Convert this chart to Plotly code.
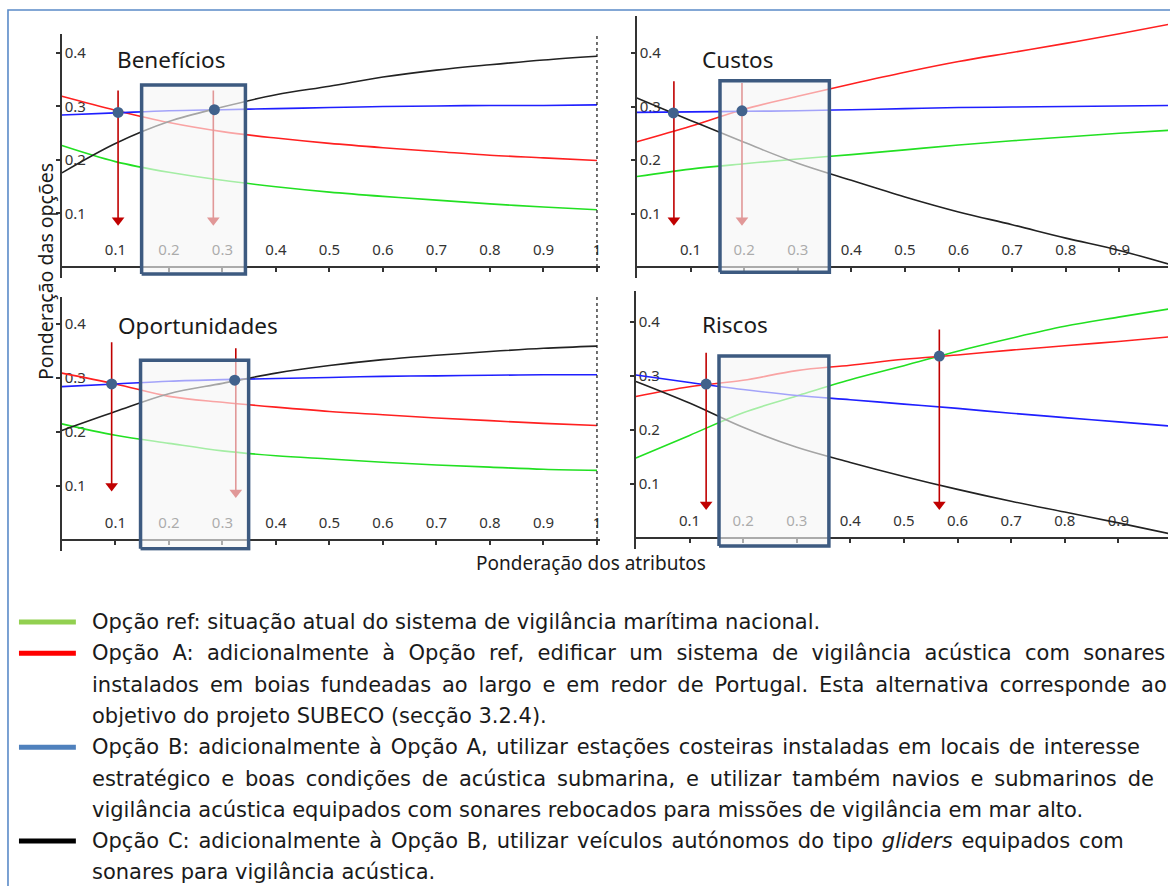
import plotly.graph_objects as go

W, H = 1170, 886

# ---------------- data ----------------
x_samples = [0.0, 0.1, 0.2, 0.3, 0.4, 0.5, 0.6, 0.7, 0.8, 0.9, 1.0]

panel_titles = ["Benefícios", "Custos", "Oportunidades", "Riscos"]

# Benefícios
ben_ref = [0.227, 0.197, 0.177, 0.162, 0.150, 0.140, 0.132, 0.125, 0.118, 0.112, 0.107]
ben_a   = [0.319, 0.293, 0.270, 0.253, 0.241, 0.231, 0.223, 0.216, 0.209, 0.204, 0.199]
ben_b   = [0.284, 0.288, 0.292, 0.294, 0.296, 0.298, 0.300, 0.301, 0.302, 0.302, 0.303]
ben_c   = [0.176, 0.231, 0.272, 0.299, 0.322, 0.338, 0.355, 0.368, 0.378, 0.387, 0.394]
# Custos
cus_ref = [0.169, 0.183, 0.193, 0.202, 0.210, 0.219, 0.228, 0.236, 0.243, 0.250, 0.256]
cus_a   = [0.234, 0.263, 0.295, 0.319, 0.342, 0.364, 0.384, 0.401, 0.418, 0.436, 0.455]
cus_b   = [0.289, 0.290, 0.291, 0.292, 0.294, 0.296, 0.298, 0.299, 0.300, 0.301, 0.302]
cus_c   = [0.316, 0.274, 0.233, 0.194, 0.162, 0.131, 0.103, 0.079, 0.054, 0.031, 0.003]
# Oportunidades
opo_ref = [0.215, 0.194, 0.179, 0.165, 0.156, 0.150, 0.144, 0.139, 0.135, 0.131, 0.129]
opo_a   = [0.309, 0.289, 0.266, 0.255, 0.246, 0.238, 0.232, 0.226, 0.221, 0.216, 0.212]
opo_b   = [0.284, 0.289, 0.294, 0.297, 0.299, 0.301, 0.303, 0.304, 0.305, 0.306, 0.306]
opo_c   = [0.203, 0.238, 0.271, 0.290, 0.309, 0.323, 0.334, 0.342, 0.349, 0.355, 0.359]
# Riscos
ris_ref = [0.148, 0.190, 0.232, 0.263, 0.293, 0.319, 0.346, 0.370, 0.392, 0.409, 0.425]
ris_a   = [0.262, 0.280, 0.292, 0.310, 0.320, 0.331, 0.339, 0.348, 0.356, 0.364, 0.373]
ris_b   = [0.302, 0.288, 0.275, 0.264, 0.256, 0.248, 0.240, 0.231, 0.223, 0.215, 0.207]
ris_c   = [0.290, 0.250, 0.205, 0.168, 0.140, 0.114, 0.090, 0.068, 0.048, 0.028, 0.007]

# intersection points (x, y) per panel
dots_x = [[0.105, 0.285], [0.068, 0.196], [0.093, 0.323], [0.131, 0.566]]
dots_y = [[0.289, 0.294], [0.288, 0.292], [0.289, 0.296], [0.285, 0.337]]

# red arrows: x, top, tip
arrow_x   = [[0.105, 0.283], [0.069, 0.196], [0.093, 0.325], [0.131, 0.566]]
arrow_top = [[0.330, 0.330], [0.347, 0.344], [0.366, 0.355], [0.343, 0.386]]
arrow_tip = [[0.077, 0.077], [0.077, 0.077], [0.090, 0.078], [0.052, 0.052]]

# highlighted window per panel: x0, x1, y0, y1
box_x0 = [0.149, 0.155, 0.147, 0.155]
box_x1 = [0.343, 0.359, 0.349, 0.360]
box_y0 = [-0.013, -0.010, -0.016, -0.015]
box_y1 = [0.340, 0.348, 0.333, 0.337]

x_ticks_left = [0.1, 0.2, 0.3, 0.4, 0.5, 0.6, 0.7, 0.8, 0.9, 1.0]
x_ticks_right = [0.1, 0.2, 0.3, 0.4, 0.5, 0.6, 0.7, 0.8, 0.9]
y_ticks = [0.1, 0.2, 0.3, 0.4]

legend_texts = [
    "Opção ref: situação atual do sistema de vigilância marítima nacional.",
    "Opção A: adicionalmente à Opção ref, edificar um sistema de vigilância acústica com sonares",
    "instalados em boias fundeadas ao largo e em redor de Portugal. Esta alternativa corresponde ao",
    "objetivo do projeto SUBECO (secção 3.2.4).",
    "Opção B: adicionalmente à Opção A, utilizar estações costeiras instaladas em locais de interesse",
    "estratégico e boas condições de acústica submarina, e utilizar também navios e submarinos de",
    "vigilância acústica equipados com sonares rebocados para missões de vigilância em mar alto.",
    "Opção C: adicionalmente à Opção B, utilizar veículos autónomos do tipo <i>gliders</i> equipados com",
    "sonares para vigilância acústica.",
]
# extra inter-word padding that imitates the justified paragraph
legend_gap_pad = ["", " ", "\u2009", "", "\u200a", "\u2009", "", "\u200a", ""]
legend_bar_rows = [0, 1, 4, 7]
legend_bar_colors = ["#92d050", "#ff0000", "#4f81bd", "#000000"]

series = [
    [ben_ref, ben_a, ben_b, ben_c],
    [cus_ref, cus_a, cus_b, cus_c],
    [opo_ref, opo_a, opo_b, opo_c],
    [ris_ref, ris_a, ris_b, ris_c],
]
line_colors = ["#22e022", "#ff2020", "#1f1fff", "#222222"]

# ---------------- layout geometry (pixels) ----------------
geo = [
    dict(x0=62, kx=536, y0=267, ky=535, xr=[0, 1.005], ytop=0.435),
    dict(x0=638, kx=537, y0=267, ky=535, xr=[0, (W - 638) / 537], ytop=0.47),
    dict(x0=62, kx=536, y0=540, ky=540, xr=[0, 1.005], ytop=0.45),
    dict(x0=637, kx=537, y0=538, ky=540, xr=[0, (W - 637) / 537], ytop=0.457),
]
YMIN = -0.02
title_pos = [(115, 59), (701, 59), (116, 325), (701, 324)]
ARROW_HEAD = 11  # marker size in px

fig = go.Figure()
layout = dict(
    width=W, height=H, margin=dict(l=0, r=0, t=0, b=0),
    paper_bgcolor="white", plot_bgcolor="rgba(0,0,0,0)",
    showlegend=False, font=dict(family="Noto Sans", color="#222"),
)
shapes = []
annotations = []

for i in range(4):
    g = geo[i]
    xa = "x" if i == 0 else f"x{i+1}"
    ya = "y" if i == 0 else f"y{i+1}"
    xkey = "xaxis" if i == 0 else f"xaxis{i+1}"
    ykey = "yaxis" if i == 0 else f"yaxis{i+1}"

    # curves
    for s, col in zip(series[i], line_colors):
        fig.add_trace(go.Scatter(x=x_samples, y=s, mode="lines", line=dict(color=col, width=1.6, shape="spline"),
                                 xaxis=xa, yaxis=ya, hoverinfo="skip"))
    # arrows (shaft + triangular head whose tip sits on the arrow end)
    head_off = (ARROW_HEAD / 2) / g["ky"]
    for ax_, at, tp in zip(arrow_x[i], arrow_top[i], arrow_tip[i]):
        fig.add_trace(go.Scatter(x=[ax_, ax_], y=[at, tp + head_off], mode="lines",
                                 line=dict(color="#c00000", width=1.6),
                                 xaxis=xa, yaxis=ya, hoverinfo="skip"))
        fig.add_trace(go.Scatter(x=[ax_], y=[tp + head_off], mode="markers",
                                 marker=dict(symbol="triangle-down", size=ARROW_HEAD, color="#c00000",
                                             line=dict(width=0)),
                                 xaxis=xa, yaxis=ya, hoverinfo="skip"))
    # highlighted window
    bx = [box_x0[i], box_x1[i], box_x1[i], box_x0[i], box_x0[i]]
    by = [box_y0[i], box_y0[i], box_y1[i], box_y1[i], box_y0[i]]
    fig.add_trace(go.Scatter(x=bx, y=by, mode="lines", fill="toself", fillcolor="rgba(246,246,246,0.62)",
                             line=dict(color="#3d5a80", width=3.5), xaxis=xa, yaxis=ya, hoverinfo="skip"))
    # dots
    fig.add_trace(go.Scatter(x=dots_x[i], y=dots_y[i], mode="markers",
                             marker=dict(color="#41628c", size=11), xaxis=xa, yaxis=ya, hoverinfo="skip"))

    xr = g["xr"]
    dom_x = [(g["x0"] + xr[0] * g["kx"]) / W, min(1.0, (g["x0"] + xr[1] * g["kx"]) / W)]
    dom_y = [1 - (g["y0"] - YMIN * g["ky"]) / H, 1 - (g["y0"] - g["ytop"] * g["ky"]) / H]
    ticks = x_ticks_left if i in (0, 2) else x_ticks_right
    layout[xkey] = dict(
        domain=dom_x, range=xr, anchor="free", position=1 - g["y0"] / H,
        showline=True, linecolor="#333", linewidth=1.5, ticks="outside", ticklen=4, tickwidth=1.5,
        tickcolor="#333", tickvals=ticks, ticktext=[f"{t:g}" for t in ticks],
        ticklabelposition="inside", ticklabeloverflow="allow", ticklabelstandoff=8,
        tickfont=dict(size=15, color="#333", family="Noto Sans"),
        showgrid=False, zeroline=False, layer="below traces", fixedrange=True,
    )
    layout[ykey] = dict(
        domain=dom_y, range=[YMIN, g["ytop"]], anchor=xa,
        showline=True, linecolor="#333", linewidth=1.5, ticks="outside", ticklen=4, tickwidth=1.5,
        tickcolor="#333", tickvals=y_ticks, ticktext=[f"{t:g}" for t in y_ticks],
        ticklabelposition="inside", ticklabelstandoff=3,
        tickfont=dict(size=15, color="#333", family="Noto Sans"),
        showgrid=False, zeroline=False, layer="below traces", fixedrange=True,
    )
    if i in (0, 2):
        shapes.append(dict(type="line", xref=xa, yref=ya, x0=1, x1=1, y0=0, y1=g["ytop"],
                           line=dict(color="#222", width=1.3, dash="dot")))
    tx, ty = title_pos[i]
    annotations.append(dict(text=panel_titles[i], xref="paper", yref="paper", x=tx / W, y=1 - ty / H,
                            xanchor="left", yanchor="middle", showarrow=False,
                            font=dict(size=22.5, color="#1a1a1a", family="Noto Sans")))

# axis titles
annotations.append(dict(text="Ponderação das opções", xref="paper", yref="paper", x=45 / W, y=1 - 271 / H,
                        textangle=-90, showarrow=False, xanchor="center", yanchor="middle",
                        font=dict(size=19.5, color="#1a1a1a", family="Noto Sans")))
annotations.append(dict(text="Ponderação dos atributos", xref="paper", yref="paper", x=592 / W, y=1 - 563 / H,
                        showarrow=False, xanchor="center", yanchor="middle",
                        font=dict(size=19, color="#1a1a1a", family="Noto Sans")))

# frame
shapes.append(dict(type="rect", xref="paper", yref="paper", x0=8 / W, x1=1.05, y0=-0.05, y1=1 - 10 / H,
                   line=dict(color="#5b8bc8", width=1.6), fillcolor="rgba(0,0,0,0)", layer="below"))

# legend text block
row0, row_h = 622, 31.3
for k, txt in enumerate(legend_texts):
    txt_j = txt.replace(" ", " " + legend_gap_pad[k]) if legend_gap_pad[k] else txt
    annotations.append(dict(text=txt_j, xref="paper", yref="paper", x=90 / W, y=1 - (row0 + k * row_h) / H,
                            xanchor="left", yanchor="middle", showarrow=False,
                            font=dict(size=21, color="#1a1a1a", family="DejaVu Sans")))
for r, c in zip(legend_bar_rows, legend_bar_colors):
    yb = 1 - (row0 + r * row_h) / H
    shapes.append(dict(type="line", xref="paper", yref="paper", x0=19 / W, x1=76 / W, y0=yb, y1=yb,
                       line=dict(color=c, width=5)))

layout["shapes"] = shapes
layout["annotations"] = annotations
fig.update_layout(**layout)
fig.write_html("out.html", config={"displayModeBar": False},
               post_script="document.body.style.margin='0px';")
